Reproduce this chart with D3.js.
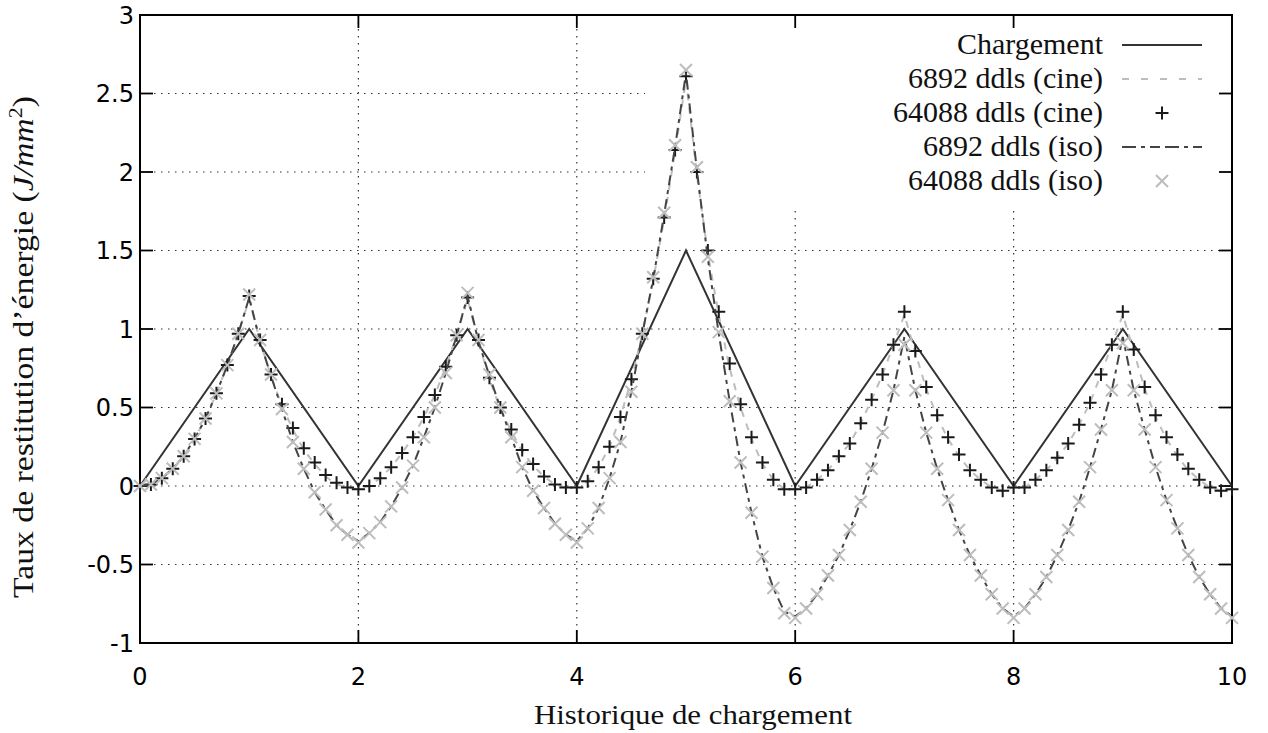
<!DOCTYPE html>
<html>
<head>
<meta charset="utf-8">
<script src="https://cdn.jsdelivr.net/npm/d3@7"></script>
<style>
  html, body { margin: 0; padding: 0; background: #fff; }
  svg { display: block; }
</style>
</head>
<body>
<svg id="chart" width="1268" height="733"></svg>
<script>
// ---------- DATA ----------
const loadX = [0, 1, 2, 3, 4, 5, 6, 7, 8, 9, 10];
const loadY = [0, 1, 0, 1, 0, 1.5, 0, 1, 0, 1, 0];

const steps = [0,
  0.1,0.2,0.3,0.4,0.5,0.6,0.7,0.8,0.9,1.0,
  1.1,1.2,1.3,1.4,1.5,1.6,1.7,1.8,1.9,2.0,
  2.1,2.2,2.3,2.4,2.5,2.6,2.7,2.8,2.9,3.0,
  3.1,3.2,3.3,3.4,3.5,3.6,3.7,3.8,3.9,4.0,
  4.1,4.2,4.3,4.4,4.5,4.6,4.7,4.8,4.9,5.0,
  5.1,5.2,5.3,5.4,5.5,5.6,5.7,5.8,5.9,6.0,
  6.1,6.2,6.3,6.4,6.5,6.6,6.7,6.8,6.9,7.0,
  7.1,7.2,7.3,7.4,7.5,7.6,7.7,7.8,7.9,8.0,
  8.1,8.2,8.3,8.4,8.5,8.6,8.7,8.8,8.9,9.0,
  9.1,9.2,9.3,9.4,9.5,9.6,9.7,9.8,9.9,10.0];

const cine64088 = [0,
  0.01,0.05,0.11,0.19,0.30,0.43,0.59,0.77,0.97,1.21,
  0.93,0.71,0.52,0.37,0.24,0.15,0.07,0.02,-0.01,-0.02,
  0.00,0.05,0.12,0.21,0.31,0.44,0.58,0.76,0.96,1.20,
  0.93,0.69,0.50,0.36,0.23,0.14,0.06,0.01,-0.01,-0.01,
  0.03,0.12,0.25,0.44,0.68,0.97,1.32,1.71,2.14,2.61,
  2.00,1.50,1.11,0.78,0.52,0.31,0.15,0.04,-0.02,-0.02,
  -0.01,0.04,0.10,0.19,0.27,0.40,0.55,0.71,0.90,1.11,
  0.86,0.63,0.45,0.31,0.20,0.10,0.04,-0.01,-0.03,-0.01,
  -0.01,0.04,0.10,0.18,0.27,0.39,0.53,0.71,0.90,1.11,
  0.87,0.63,0.45,0.31,0.20,0.11,0.04,-0.01,-0.03,-0.02];

const cine6892 = [0,
  0.01,0.05,0.11,0.19,0.30,0.43,0.59,0.77,0.97,1.19,
  0.92,0.70,0.51,0.36,0.23,0.14,0.06,0.01,-0.01,-0.02,
  0.00,0.05,0.12,0.21,0.31,0.44,0.58,0.76,0.96,1.19,
  0.92,0.68,0.49,0.35,0.22,0.13,0.06,0.01,-0.01,-0.01,
  0.03,0.12,0.25,0.44,0.68,0.97,1.31,1.70,2.13,2.59,
  1.98,1.48,1.09,0.75,0.50,0.30,0.14,0.04,-0.02,-0.02,
  -0.01,0.04,0.10,0.19,0.27,0.40,0.55,0.71,0.90,1.09,
  0.85,0.62,0.44,0.30,0.19,0.10,0.04,-0.01,-0.03,-0.01,
  -0.01,0.04,0.10,0.18,0.27,0.39,0.53,0.71,0.90,1.09,
  0.86,0.62,0.44,0.30,0.19,0.10,0.04,-0.01,-0.03,-0.02];

const iso64088 = [0,
  0.01,0.05,0.11,0.19,0.30,0.43,0.59,0.77,0.97,1.22,
  0.93,0.71,0.49,0.28,0.11,-0.04,-0.15,-0.25,-0.31,-0.36,
  -0.30,-0.23,-0.13,-0.01,0.13,0.31,0.50,0.72,0.96,1.23,
  0.93,0.71,0.50,0.31,0.12,-0.03,-0.14,-0.24,-0.31,-0.36,
  -0.27,-0.14,0.05,0.28,0.60,0.97,1.33,1.74,2.17,2.65,
  2.03,1.46,0.98,0.54,0.15,-0.17,-0.45,-0.65,-0.81,-0.84,
  -0.78,-0.69,-0.57,-0.44,-0.28,-0.10,0.11,0.34,0.61,0.90,
  0.61,0.34,0.11,-0.09,-0.28,-0.44,-0.57,-0.69,-0.78,-0.84,
  -0.78,-0.69,-0.58,-0.44,-0.28,-0.10,0.12,0.36,0.61,0.91,
  0.61,0.36,0.12,-0.09,-0.27,-0.44,-0.58,-0.69,-0.78,-0.84];

const iso6892 = [0,
  0.01,0.05,0.11,0.19,0.30,0.43,0.59,0.77,0.97,1.20,
  0.92,0.70,0.49,0.28,0.11,-0.04,-0.15,-0.25,-0.31,-0.35,
  -0.30,-0.23,-0.13,-0.01,0.13,0.31,0.50,0.72,0.96,1.21,
  0.92,0.70,0.50,0.31,0.12,-0.03,-0.14,-0.24,-0.31,-0.35,
  -0.27,-0.14,0.05,0.28,0.60,0.97,1.32,1.73,2.16,2.63,
  2.01,1.45,0.97,0.54,0.15,-0.17,-0.45,-0.65,-0.80,-0.83,
  -0.78,-0.69,-0.57,-0.44,-0.28,-0.10,0.11,0.34,0.61,0.95,
  0.61,0.34,0.11,-0.09,-0.28,-0.44,-0.57,-0.69,-0.78,-0.83,
  -0.78,-0.69,-0.58,-0.44,-0.28,-0.10,0.12,0.36,0.61,0.95,
  0.61,0.36,0.12,-0.09,-0.27,-0.44,-0.58,-0.69,-0.78,-0.83];

const xTicks = [0, 2, 4, 6, 8, 10];
const xTickLabels = ["0", "2", "4", "6", "8", "10"];
const yTicks = [-1, -0.5, 0, 0.5, 1, 1.5, 2, 2.5, 3];
const yTickLabels = ["-1", "-0.5", "0", "0.5", "1", "1.5", "2", "2.5", "3"];

const legendLabels = ["Chargement", "6892 ddls (cine)", "64088 ddls (cine)", "6892 ddls (iso)", "64088 ddls (iso)"];
const xTitle = "Historique de chargement";

// ---------- LAYOUT ----------
const svg = d3.select("#chart");
const L = 140, R = 1232, T = 15, B = 643;
const x = d3.scaleLinear().domain([0, 10]).range([L, R]);
const y = d3.scaleLinear().domain([-1, 3]).range([B, T]);

const serif = "'Liberation Serif', 'DejaVu Serif', serif";
const sans = "'DejaVu Sans', sans-serif";

// grid
const grid = svg.append("g").attr("stroke", "#333").attr("stroke-width", 1.2)
  .attr("stroke-dasharray", "1.5,5.5");
grid.selectAll("line.gx").data(xTicks.slice(1, -1)).join("line")
  .attr("x1", d => x(d)).attr("x2", d => x(d)).attr("y1", T).attr("y2", B);
grid.selectAll("line.gy").data(yTicks.slice(1, -1)).join("line")
  .attr("x1", L).attr("x2", R).attr("y1", d => y(d)).attr("y2", d => y(d));

// legend background (covers grid)
svg.append("rect").attr("x", 645).attr("y", T + 1).attr("width", R - 645 - 1).attr("height", 205 - T)
  .attr("fill", "#fff");

// frame and ticks
const axG = svg.append("g").attr("stroke", "#000").attr("stroke-width", 1.8);
const tl = 13;
xTicks.forEach(t => {
  axG.append("line").attr("x1", x(t)).attr("x2", x(t)).attr("y1", B).attr("y2", B - tl);
  axG.append("line").attr("x1", x(t)).attr("x2", x(t)).attr("y1", T).attr("y2", T + tl);
});
yTicks.forEach(t => {
  axG.append("line").attr("x1", L).attr("x2", L + tl).attr("y1", y(t)).attr("y2", y(t));
  axG.append("line").attr("x1", R).attr("x2", R - tl).attr("y1", y(t)).attr("y2", y(t));
});
svg.append("rect").attr("x", L).attr("y", T).attr("width", R - L).attr("height", B - T)
  .attr("fill", "none").attr("stroke", "#000").attr("stroke-width", 2);

// tick labels
svg.append("g").selectAll("text").data(xTicks).join("text")
  .attr("x", d => x(d)).attr("y", 685)
  .attr("text-anchor", "middle").attr("font-family", sans).attr("font-size", 24).attr("fill", "#000")
  .text((d, i) => xTickLabels[i]);
svg.append("g").selectAll("text").data(yTicks).join("text")
  .attr("x", 134).attr("y", d => y(d) + 8.5)
  .attr("text-anchor", "end").attr("font-family", sans).attr("font-size", 24).attr("fill", "#000")
  .text((d, i) => yTickLabels[i]);

// axis titles
svg.append("text").attr("x", 693).attr("y", 724).attr("text-anchor", "middle")
  .attr("font-family", serif).attr("font-size", 28).attr("fill", "#111")
  .attr("textLength", 318).attr("lengthAdjust", "spacingAndGlyphs")
  .text(xTitle);
const yt = svg.append("text").attr("transform", "translate(33,347) rotate(-90)")
  .attr("text-anchor", "middle").attr("font-family", serif).attr("font-size", 29).attr("fill", "#111")
  .attr("textLength", 502).attr("lengthAdjust", "spacingAndGlyphs");
yt.append("tspan").text("Taux de restitution d’énergie (");
yt.append("tspan").attr("font-style", "italic").text("J/mm");
yt.append("tspan").attr("font-size", 19).attr("dy", -11).text("2");
yt.append("tspan").attr("dy", 11).text(")");

// ---------- SERIES ----------
const line = d3.line().x(d => x(d[0])).y(d => y(d[1]));
const zip = (xs, ys) => xs.map((v, i) => [v, ys[i]]);

// Chargement
svg.append("path").datum(zip(loadX, loadY)).attr("d", line)
  .attr("fill", "none").attr("stroke", "#333").attr("stroke-width", 2);

// 6892 cine (light dashed)
svg.append("path").datum(zip(steps, cine6892)).attr("d", line)
  .attr("fill", "none").attr("stroke", "#bdbdbd").attr("stroke-width", 2)
  .attr("stroke-dasharray", "7,7");

// 64088 cine (+)
const plusPath = s => `M${-s},0H${s}M0,${-s}V${s}`;
const crossPath = s => `M${-s},${-s}L${s},${s}M${-s},${s}L${s},${-s}`;
svg.append("g").selectAll("path").data(zip(steps, cine64088)).join("path")
  .attr("transform", d => `translate(${x(d[0])},${y(d[1])})`)
  .attr("d", plusPath(6.5)).attr("stroke", "#1a1a1a").attr("stroke-width", 2).attr("fill", "none");

// 6892 iso (dark dash-dot)
svg.append("path").datum(zip(steps, iso6892)).attr("d", line)
  .attr("fill", "none").attr("stroke", "#444").attr("stroke-width", 2)
  .attr("stroke-dasharray", "10,5,4,5");

// 64088 iso (x)
svg.append("g").selectAll("path").data(zip(steps, iso64088)).join("path")
  .attr("transform", d => `translate(${x(d[0])},${y(d[1])})`)
  .attr("d", crossPath(6)).attr("stroke", "#bdbdbd").attr("stroke-width", 2).attr("fill", "none");

// ---------- LEGEND ----------
const legY = [45, 79, 113, 147, 181];
const lg = svg.append("g");
legendLabels.forEach((lab, i) => {
  lg.append("text").attr("x", 1103).attr("y", legY[i] + 9).attr("text-anchor", "end")
    .attr("font-family", serif).attr("font-size", 30).attr("fill", "#111").text(lab);
});
lg.append("line").attr("x1", 1122).attr("x2", 1202).attr("y1", legY[0]).attr("y2", legY[0])
  .attr("stroke", "#333").attr("stroke-width", 2);
lg.append("line").attr("x1", 1122).attr("x2", 1202).attr("y1", legY[1]).attr("y2", legY[1])
  .attr("stroke", "#bdbdbd").attr("stroke-width", 2).attr("stroke-dasharray", "7,12");
lg.append("path").attr("transform", `translate(1162,${legY[2]})`).attr("d", plusPath(6.5))
  .attr("stroke", "#1a1a1a").attr("stroke-width", 2);
lg.append("line").attr("x1", 1122).attr("x2", 1202).attr("y1", legY[3]).attr("y2", legY[3])
  .attr("stroke", "#444").attr("stroke-width", 2).attr("stroke-dasharray", "14,5,4,5,10,5");
lg.append("path").attr("transform", `translate(1162,${legY[4]})`).attr("d", crossPath(6))
  .attr("stroke", "#bdbdbd").attr("stroke-width", 2);
</script>
</body>
</html>
